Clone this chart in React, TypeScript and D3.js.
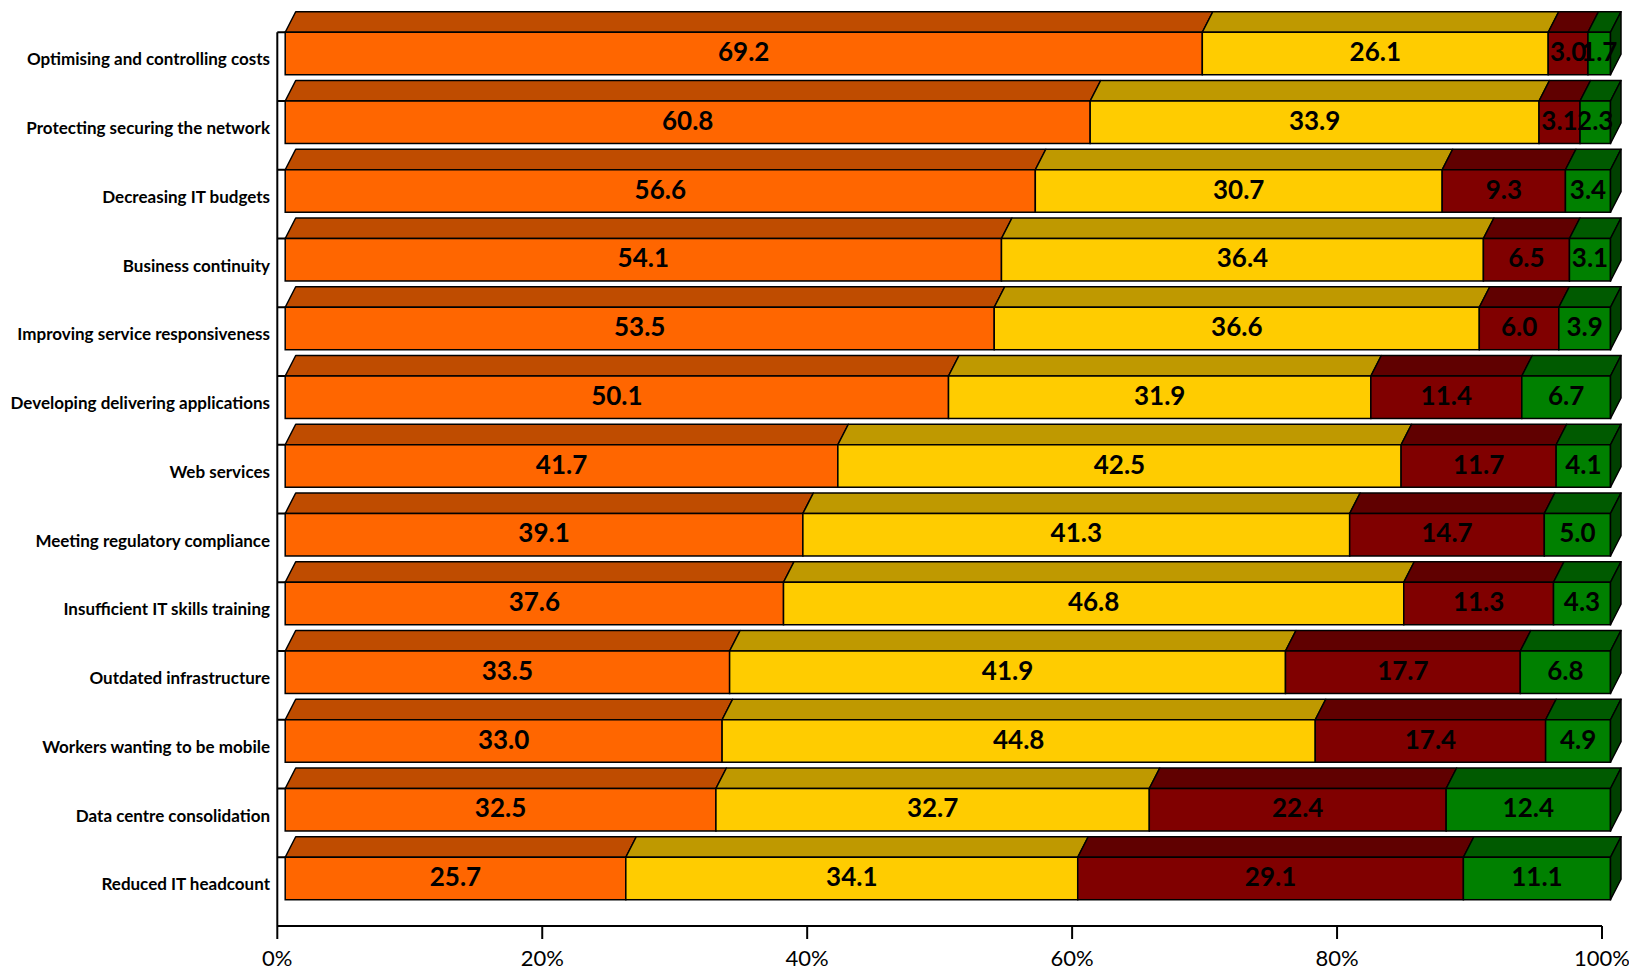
import React from "react";
import * as d3 from "d3";

const categories = [
  "Optimising and controlling costs",
  "Protecting securing the network",
  "Decreasing IT budgets",
  "Business continuity",
  "Improving service responsiveness",
  "Developing delivering applications",
  "Web services",
  "Meeting regulatory compliance",
  "Insufficient IT skills training",
  "Outdated infrastructure",
  "Workers wanting to be mobile",
  "Data centre consolidation",
  "Reduced IT headcount",
];

const seriesA = [69.2, 60.8, 56.6, 54.1, 53.5, 50.1, 41.7, 39.1, 37.6, 33.5, 33.0, 32.5, 25.7];
const seriesB = [26.1, 33.9, 30.7, 36.4, 36.6, 31.9, 42.5, 41.3, 46.8, 41.9, 44.8, 32.7, 34.1];
const seriesC = [3.0, 3.1, 9.3, 6.5, 6.0, 11.4, 11.7, 14.7, 11.3, 17.7, 17.4, 22.4, 29.1];
const seriesD = [1.7, 2.3, 3.4, 3.1, 3.9, 6.7, 4.1, 5.0, 4.3, 6.8, 4.9, 12.4, 11.1];

const xTicks = [0, 20, 40, 60, 80, 100];
const xTickLabels = ["0%", "20%", "40%", "60%", "80%", "100%"];

const seriesList = [seriesA, seriesB, seriesC, seriesD];
const frontColors = ["#FF6600", "#FFCC00", "#800000", "#008000"];
const topColors = ["#BF4C00", "#BF9900", "#600000", "#005A00"];
const sideColors = ["#803300", "#806600", "#400000", "#004000"];

const W = 1629;
const H = 971;
const axisX0 = 277.3;
const axisX1 = 1602;
const axisTop = 32.25;
const axisBottom = 926;
const barX0 = 285.2;
const barX1 = 1610.5;
const depthX = 10.5;
const depthY = 20.5;

export default function App() {
  const xAxis = d3.scaleLinear().domain([0, 100]).range([axisX0, axisX1]);
  const xBar = d3.scaleLinear().domain([0, 100]).range([barX0, barX1]);
  const y = d3.scaleBand<string>().domain(categories).range([axisTop, axisBottom]).padding(0);
  const step = y.step();
  const barH = step * 0.618;

  const font = "Lato, 'Open Sans', sans-serif";

  const rows = categories.map((c, i) => {
    const vals = seriesList.map((s) => s[i]);
    const total = d3.sum(vals);
    let cum = 0;
    const segs = vals.map((v, k) => {
      const a = (cum / total) * 100;
      cum += v;
      const b = (cum / total) * 100;
      return { k, v, a, b };
    });
    return { c, i, segs };
  });

  const poly = (pts: [number, number][]) => pts.map((p) => p.join(",")).join(" ");

  return (
    <svg width={W} height={H} style={{ position: "absolute", left: 0, top: 0, background: "#fff" }}>
      {/* y axis */}
      <line x1={axisX0} x2={axisX0} y1={axisTop} y2={axisBottom} stroke="#000" strokeWidth={2} />
      {d3.range(categories.length + 1).map((j) => {
        const yy = axisTop + j * step;
        return <line key={"yt" + j} x1={axisX0} x2={axisX0 + 8} y1={yy} y2={yy} stroke="#000" strokeWidth={2} />;
      })}
      {/* x axis */}
      <line x1={axisX0} x2={xAxis(100)} y1={axisBottom} y2={axisBottom} stroke="#000" strokeWidth={2} />
      {xTicks.map((t, j) => (
        <g key={"xt" + t}>
          <line x1={xAxis(t)} x2={xAxis(t)} y1={axisBottom} y2={axisBottom + 13} stroke="#000" strokeWidth={2} />
          <text x={xAxis(t)} y={axisBottom + 34} textAnchor="middle" dominantBaseline="middle" fontFamily={font} fontSize={22} fill="#000">
            {xTickLabels[j]}
          </text>
        </g>
      ))}
      {/* bars */}
      {rows.map((r) => {
        const yt = (y(r.c) as number);
        const yb = yt + barH;
        const last = r.segs[r.segs.length - 1];
        return (
          <g key={r.c}>
            {r.segs.map((s) => {
              const x0 = xBar(s.a);
              const x1 = xBar(s.b);
              return (
                <g key={s.k}>
                  <polygon
                    points={poly([[x0, yt], [x0 + depthX, yt - depthY], [x1 + depthX, yt - depthY], [x1, yt]])}
                    fill={topColors[s.k]}
                    stroke="#000"
                    strokeWidth={1.5}
                    strokeLinejoin="round"
                  />
                  <rect x={x0} y={yt} width={x1 - x0} height={barH} fill={frontColors[s.k]} stroke="#000" strokeWidth={1.5} />
                </g>
              );
            })}
            <polygon
              points={poly([[xBar(last.b), yt], [xBar(last.b) + depthX, yt - depthY], [xBar(last.b) + depthX, yb - depthY], [xBar(last.b), yb]])}
              fill={sideColors[last.k]}
              stroke="#000"
              strokeWidth={1.5}
              strokeLinejoin="round"
            />
            {r.segs.map((s) => (
              <text
                key={"l" + s.k}
                x={(xBar(s.a) + xBar(s.b)) / 2}
                y={yt + barH / 2 + 1}
                textAnchor="middle"
                dominantBaseline="middle"
                fontFamily={font}
                fontWeight="bold"
                fontSize={26}
                fill="#000"
              >
                {s.v.toFixed(1)}
              </text>
            ))}
            <text
              x={270}
              y={yt + step * 0.42}
              textAnchor="end"
              dominantBaseline="middle"
              fontFamily={font}
              fontWeight="bold"
              fontSize={17}
              fill="#000"
            >
              {r.c}
            </text>
          </g>
        );
      })}
    </svg>
  );
}
